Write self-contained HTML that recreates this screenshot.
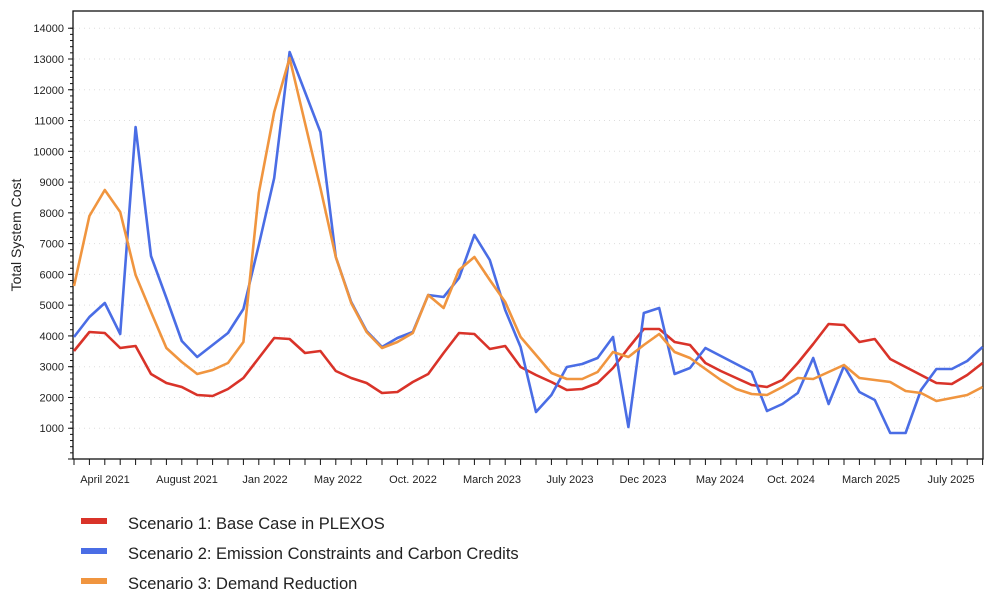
<!DOCTYPE html>
<html><head><meta charset="utf-8"><style>
body{margin:0;background:#fff;width:996px;height:605px;overflow:hidden;font-family:"Liberation Sans",sans-serif}
</style></head><body>
<svg id="s" width="996" height="605" xmlns="http://www.w3.org/2000/svg" font-family="Liberation Sans, sans-serif">
<g id="grid" stroke="#ddd" stroke-dasharray="1,4"></g>
<rect x="73" y="11" width="910" height="448" fill="none" stroke="#111" stroke-width="1.3"/>
<g id="ticks" stroke="#111" stroke-width="1"></g>
<g id="ylab" font-size="11" fill="#222" text-anchor="end"></g>
<text transform="translate(21,235) rotate(-90)" font-size="14" fill="#222" text-anchor="middle">Total System Cost</text>
<g font-size="11" fill="#222" text-anchor="middle">
<text x="105" y="483">April 2021</text><text x="187" y="483">August 2021</text><text x="265" y="483">Jan 2022</text>
<text x="338" y="483">May 2022</text><text x="413" y="483">Oct. 2022</text><text x="492" y="483">March 2023</text>
<text x="570" y="483">July 2023</text><text x="643" y="483">Dec 2023</text><text x="720" y="483">May 2024</text>
<text x="791" y="483">Oct. 2024</text><text x="871" y="483">March 2025</text><text x="951" y="483">July 2025</text>
</g>
<g id="lines" fill="none" stroke-width="2.6" stroke-linejoin="round"></g>
<rect x="81" y="518" width="26" height="6" fill="#d93329"/>
<rect x="81" y="548" width="26" height="6" fill="#4a6de5"/>
<rect x="81" y="578" width="26" height="6" fill="#f0953f"/>
<g font-size="16.5" fill="#222">
<text x="128" y="529">Scenario 1: Base Case in PLEXOS</text>
<text x="128" y="559">Scenario 2: Emission Constraints and Carbon Credits</text>
<text x="128" y="589">Scenario 3: Demand Reduction</text>
</g>
</svg>
<script>
var NS="http://www.w3.org/2000/svg";
function el(p,t,a){var e=document.createElementNS(NS,t);for(var k in a)e.setAttribute(k,a[k]);document.getElementById(p).appendChild(e);return e;}
for(var v=1;v<=14;v++){var y=459-v*30.77;el("grid","line",{x1:74,x2:982,y1:y,y2:y});el("ticks","line",{x1:68,x2:73,y1:y,y2:y});var t=el("ylab","text",{x:64,y:y+4});t.textContent=v*1000;}
for(var m=0;m<=70;m++){var y=459-m*6.154;el("ticks","line",{x1:70,x2:73,y1:y,y2:y});}
y=459;el("ticks","line",{x1:68,x2:73,y1:y,y2:y});
for(var i=0;i<60;i++){var x=74+i*15.4;el("ticks","line",{x1:x,x2:x,y1:459,y2:465});}
var R=[351,332,333,348,346,374,383,387,395,396,389,378,358,338,339,353,351,371,378,383,393,392,382,374,353,333,334,349,346,367,375,382,390,389,383,368,348,329,329,342,345,363,371,378,385,387,380,363,344,324,325,342,339,359,367,375,383,384,375,363];
var B=[337,317,303,334,127,256,298,341,357,345,333,309,245,178,52,92,132,257,302,331,347,338,332,295,297,278,235,260,310,347,412,395,367,364,358,337,427,313,308,374,368,348,356,364,372,411,404,393,358,404,366,392,400,433,433,390,369,369,361,347];
var O=[286,216,190,212,275,312,348,362,374,370,363,342,193,112,58,123,188,257,303,332,348,342,333,295,308,270,257,280,302,337,355,373,379,379,372,352,357,345,334,352,358,369,380,389,394,395,387,378,379,372,365,378,380,382,391,393,401,398,395,387];
function pl(a,c){el("lines","polyline",{stroke:c,points:a.map(function(y,i){return (74+i*15.4).toFixed(1)+","+y;}).join(" ")});}
pl(R,"#d93329");pl(B,"#4a6de5");pl(O,"#f0953f");
</script>
</body></html>
